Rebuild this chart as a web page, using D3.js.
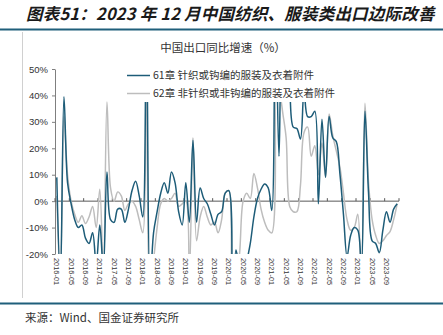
<!DOCTYPE html>
<html><head><meta charset="utf-8">
<script src="https://cdn.jsdelivr.net/npm/d3@7"></script>
<style>html,body{margin:0;padding:0;background:#fff;}svg{display:block;}</style>
</head><body>
<script>
// ---- data ----
const months = [];
for (let yr = 2016; yr <= 2023; yr++) for (let mo = 1; mo <= 12; mo++) months.push(yr + "-" + String(mo).padStart(2, "0"));
const tickLabels = ["2016-01","2016-05","2016-09","2017-01","2017-05","2017-09","2018-01","2018-05","2018-09",
  "2019-01","2019-05","2019-09","2020-01","2020-05","2020-09","2021-01","2021-05","2021-09",
  "2022-01","2022-05","2022-09","2023-01","2023-05","2023-09"];
const yTicks = [-20, -10, 0, 10, 20, 30, 40, 50];
const seriesNames = ["61章 针织或钩编的服装及衣着附件", "62章 非针织或非钩编的服装及衣着附件"];
const s61 = [9,-30,39.5,7,-1,-7,-10,-9,-14,-16,-12,-24,
  -9,-26,11,-7,-8,-3,-3,-8,-3,4,7.5,2,
  -6,70,-32,-12,-4,3,7,3,11,7,-4,-9,
  7,-8,23,-8,5,1,-1,-5,-9,-5,-4,3,
  4,-38,-18.5,-26,-30,-23,-16,-6,1,4.5,6.5,5,
  -3.5,80,17,60,55,42,28,27.5,23.5,42,32,32,
  34,-1,31,9,32,24,22.5,10.5,-5,-21,-13,-10,
  -11,-26,34,3,-15,-16,-19.5,-11,-4,-8,-3,-1];
const s62 = [2,-30,32,10,0,-5,-8,-5.5,-8.5,-6,-2,-10,
  4.5,-28,37.5,5,0,3.5,2,-3.5,-1,0,-2,-7,
  -12,65,-30,-22,-10,-1,1,0,1,3,-2,-1,
  0,-28,24,-15,-6,-2,-6,-9,-8,-12,-7,3,
  4,-35,-30,-20,0,3,1,10.5,5,-3,-8,-11,
  -12,60,45,34,24,-2,-4,-4,6,26,28,17,
  21,10,22,9,33,25,19,13,3,-7,-11,-10,
  -5,-30,37,7,-7,-13,-16,-15,-13,-11.5,-7,-1];
const colors = ["#1d5c78", "#bdbdbd"];

// ---- drawing ----
const W = 443, H = 335;
const svg = d3.select("body").append("svg").attr("width", W).attr("height", H);
const cjk = "'Noto Sans CJK SC', 'Noto Sans', sans-serif";
const lat = "'Liberation Sans', Arial, sans-serif";

svg.append("text").attr("x", 26).attr("y", 20)
  .attr("font-family", cjk).attr("font-size", 16.5).attr("font-weight", "bold").attr("font-style", "italic")
  .attr("letter-spacing", 0.2)
  .attr("fill", "#1a1a1a").text("图表51：2023 年 12 月中国纺织、服装类出口边际改善");
svg.append("line").attr("x1", 0).attr("x2", W).attr("y1", 29.5).attr("y2", 29.5)
  .attr("stroke", "#1f5f7b").attr("stroke-width", 2);
svg.append("line").attr("x1", 22.5).attr("x2", 22.5).attr("y1", 32).attr("y2", 298)
  .attr("stroke", "#d0d0d0").attr("stroke-width", 1);
svg.append("line").attr("x1", 0).attr("x2", W).attr("y1", 303.5).attr("y2", 303.5)
  .attr("stroke", "#1f5f7b").attr("stroke-width", 2);
svg.append("text").attr("x", 25).attr("y", 322)
  .attr("font-family", cjk).attr("font-size", 11.5).attr("fill", "#333").text("来源：Wind、国金证券研究所");

const x0 = 55, x1 = 399, yTop = 69, yBot = 254;
const x = d3.scaleBand().domain(months).range([x0, x1]).padding(0);
const bw = x.bandwidth();
const cx = m => x(m) + bw / 2;
const y = d3.scaleLinear().domain([-20, 50]).range([yBot, yTop]);

// chart title
svg.append("text").attr("x", 223).attr("y", 52).attr("text-anchor", "middle")
  .attr("font-family", cjk).attr("font-size", 11.5).attr("fill", "#333").text("中国出口同比增速（%）");

// y axis
const ya = svg.append("g").attr("transform", `translate(${x0},0)`)
  .call(d3.axisLeft(y).tickValues(yTicks).tickFormat(d => d + "%").tickSize(3).tickSizeOuter(0));
ya.select(".domain").attr("stroke", "#7f7f7f");
ya.selectAll(".tick line").attr("stroke", "#7f7f7f");
ya.selectAll(".tick text").attr("font-family", lat).attr("font-size", 9.5).attr("fill", "#333").attr("x", -7);

// x axis line at zero
svg.append("line").attr("x1", x0).attr("x2", x1).attr("y1", y(0)).attr("y2", y(0))
  .attr("stroke", "#595959").attr("stroke-width", 1);
const tickIdx = months.map((m, i) => i).filter(i => i % 4 === 0).concat([months.length]);
svg.append("g").selectAll("line").data(tickIdx).join("line")
  .attr("x1", i => x0 + i * bw).attr("x2", i => x0 + i * bw)
  .attr("y1", y(0)).attr("y2", y(0) - 3).attr("stroke", "#595959");
svg.append("g").selectAll("text").data(tickLabels).join("text")
  .attr("transform", d => `translate(${cx(d)},258) rotate(90)`)
  .attr("dy", "0.35em").attr("font-family", lat).attr("font-size", 7.4).attr("fill", "#333")
  .text(d => d);

// lines
svg.append("clipPath").attr("id", "plot").append("rect")
  .attr("x", x0).attr("y", yTop).attr("width", x1 - x0).attr("height", yBot - yTop);
const line = d3.line().x((d, i) => cx(months[i])).y(d => y(d)).curve(d3.curveCatmullRom.alpha(0.5));
const g = svg.append("g").attr("clip-path", "url(#plot)");
g.append("path").datum(s62).attr("d", line).attr("fill", "none").attr("stroke", colors[1]).attr("stroke-width", 1.5);
g.append("path").datum(s61).attr("d", line).attr("fill", "none").attr("stroke", colors[0]).attr("stroke-width", 1.5);

// legend
svg.append("rect").attr("x", 124).attr("y", 63).attr("width", 212).attr("height", 39).attr("fill", "#fff");
const lg = svg.append("g");
[0, 1].forEach(k => {
  const ly = 75.5 + k * 18;
  lg.append("line").attr("x1", 127).attr("x2", 150).attr("y1", ly).attr("y2", ly)
    .attr("stroke", colors[k]).attr("stroke-width", 1.5);
  lg.append("text").attr("x", 153).attr("y", ly).attr("dy", "0.35em")
    .attr("font-family", cjk).attr("font-size", 10.5).attr("fill", "#333").text(seriesNames[k]);
});
</script>
</body></html>
